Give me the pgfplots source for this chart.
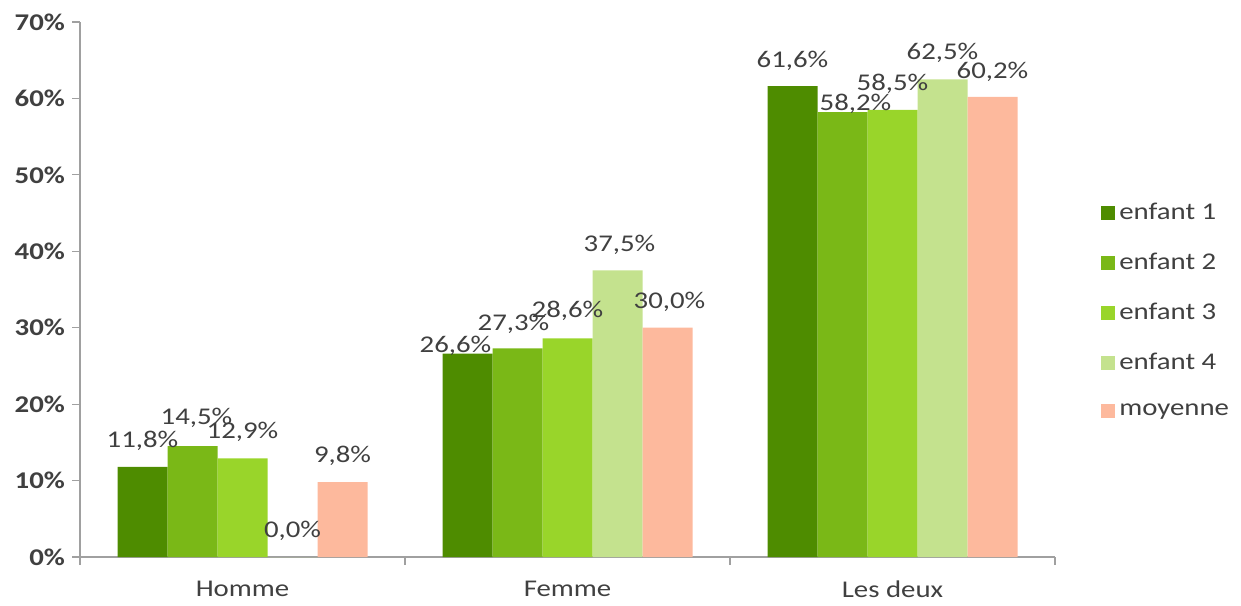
\documentclass[border=0pt]{standalone}
\usepackage{pgfplots}
\pgfplotsset{compat=1.18}
\usepackage{pgfplotstable}
\usepackage{fontspec}
\setmainfont{Carlito}[FakeStretch=1.2]
\definecolor{cA}{HTML}{4E8C00}
\definecolor{cB}{HTML}{7AB817}
\definecolor{cC}{HTML}{99D52A}
\definecolor{cD}{HTML}{C4E28E}
\definecolor{cE}{HTML}{FDB99D}
\definecolor{txt}{HTML}{404040}
\definecolor{axl}{HTML}{A0A0A0}

\pgfplotstableread{
x y dx dy
0 11.8 0 13
1 26.6 -6 4
2 61.6 0 12.5
}\tA
\pgfplotstableread{
x y dx dy
0 14.5 2 14
1 27.3 -2 12
2 58.2 6.5 4
}\tB
\pgfplotstableread{
x y dx dy
0 12.9 0 13.5
1 28.6 0 14
2 58.5 0 13
}\tC
\pgfplotstableread{
x y dx dy
0 0.0 0 13
1 37.5 1 13
2 62.5 0 13
}\tD
\pgfplotstableread{
x y dx dy
0 9.8 0 13
1 30.0 1 13
2 60.2 0 12.5
}\tE

\begin{document}
\begin{tikzpicture}
\path[use as bounding box] (0,0) rectangle (620.5pt,302.5pt);
\begin{axis}[
  ybar=0pt, bar width=25pt,
  at={(40pt,24pt)}, anchor=south west,
  scale only axis, width=487.5pt, height=267.5pt,
  xmin=-0.5, xmax=2.5, ymin=0, ymax=70,
  axis x line=bottom, axis y line=left,
  axis line style={-, draw=axl, line width=0.6pt},
  xtick={-0.5,0.5,1.5,2.5}, xticklabels={},
  extra x ticks={0,1,2},
  extra x tick labels={Homme,Femme,Les deux},
  extra x tick style={major tick length=0pt},
  x tick label style={yshift=-8.5pt},
  ytick={0,10,20,30,40,50,60,70},
  yticklabels={0\%,10\%,20\%,30\%,40\%,50\%,60\%,70\%},
  tick align=outside, major tick length=4pt,
  tick style={draw=axl, line width=0.6pt},
  every tick label/.append style={text=txt, font=\fontsize{12}{14}\selectfont},
  y tick label style={font=\fontsize{12}{14}\selectfont\bfseries},
  legend style={at={(1.041,0.677)}, anchor=north west, draw=none, fill=none,
    font=\fontsize{12}{14}\selectfont, text=txt, row sep=11.3pt},
  legend cell align=left,
  legend image code/.code={\fill[#1] (0pt,-3.5pt) rectangle (7pt,3.5pt);},
  nodes near coords={\pgfmathprintnumber[fixed,fixed zerofill,precision=1,use comma,assume math mode=true]{\pgfplotspointmeta}\%},
  point meta=y,
  visualization depends on={\thisrow{dx} \as \dx},
  visualization depends on={\thisrow{dy} \as \dy},
  every node near coord/.append style={anchor=center, xshift=\dx pt, yshift=\dy pt,
    text=txt, font=\fontsize{12}{14}\selectfont},
]
\addplot[fill=cA, draw=none] table[x=x,y=y] {\tA};
\addlegendentry{enfant 1}
\addplot[fill=cB, draw=none] table[x=x,y=y] {\tB};
\addlegendentry{enfant 2}
\addplot[fill=cC, draw=none] table[x=x,y=y] {\tC};
\addlegendentry{enfant 3}
\addplot[fill=cD, draw=none] table[x=x,y=y] {\tD};
\addlegendentry{enfant 4}
\addplot[fill=cE, draw=none] table[x=x,y=y] {\tE};
\addlegendentry{moyenne}
\end{axis}
\end{tikzpicture}
\end{document}
